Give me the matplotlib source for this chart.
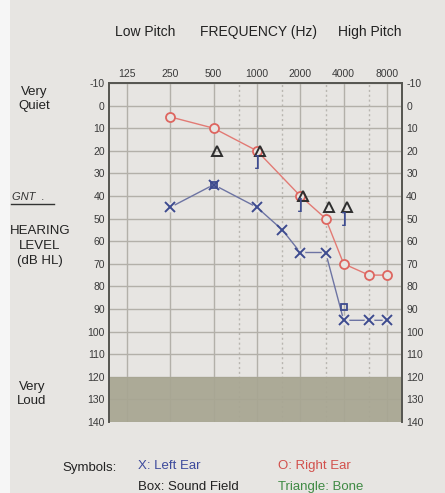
import matplotlib
matplotlib.use("Agg")
import matplotlib.pyplot as plt
import matplotlib.transforms as mtransforms
from matplotlib.patches import Rectangle

plt.rcParams['font.family'] = ['Liberation Sans', 'DejaVu Sans']

# Audiogram frequencies and thresholds (dB HL)
freq_ticks = [125, 250, 500, 1000, 2000, 4000, 8000]
freq_mid = [750, 1500, 3000, 6000]
level_ticks = list(range(-10, 141, 10))

right_freq = [250, 500, 1000, 2000, 3000, 4000, 6000, 8000]
right_db = [5, 10, 20, 40, 50, 70, 75, 75]

left_freq = [250, 500, 1000, 1500, 2000, 3000, 4000, 6000, 8000]
left_db = [45, 35, 45, 55, 65, 65, 95, 95, 95]

bone_freq = [500, 1000, 2000, 3000, 4000]
bone_db = [20, 20, 40, 45, 45]

masked_freq = [1000, 2000, 4000]
masked_db = [25, 44, 50]

field_freq = [500, 4000]
field_db = [35, 89]

BG = '#e7e5e2'
RED = '#de6660'
BLUE = '#3d4b8f'
BLUE_LINE = '#6d74a3'
GRID = '#b3b0a9'

fig = plt.figure(figsize=(4.45, 4.93), dpi=100, facecolor=BG)
# paper edge on the left
fig.patches.append(Rectangle((0, 0), 10 / 445, 1, transform=fig.transFigure,
                             facecolor='#f6f6f6', edgecolor='none', zorder=0))

ax = fig.add_axes([109 / 445, 1 - 422 / 493, 293 / 445, 339 / 493])
ax.set_facecolor(BG)
ax.set_xscale('log', base=2)
ax.set_xlim(93.8, 10170)
ax.set_ylim(140, -10)

ax.set_xticks(freq_ticks)
ax.set_xticklabels([str(f) for f in freq_ticks])
ax.set_xticks(freq_mid, minor=True)
ax.set_xticklabels([], minor=True)
ax.set_yticks(level_ticks)
ax.set_yticklabels([str(v) for v in level_ticks])

ax.tick_params(axis='x', which='both', top=True, bottom=False, labeltop=True,
               labelbottom=False, length=0, pad=3, labelsize=7.5, colors='#3a3a3a')
ax.tick_params(axis='y', left=True, right=True, labelleft=True, labelright=True,
               length=0, pad=3, labelsize=7.5, colors='#3a3a3a')

ax.grid(True, which='major', color=GRID, linewidth=1.0, zorder=0)
ax.grid(True, which='minor', axis='x', color='#b9b6b0', linewidth=1.0,
        linestyle=(0, (1.5, 2)), zorder=0)
ax.set_axisbelow(True)

# very loud band
ax.axhspan(120, 140, color='#a8a692', alpha=0.93, zorder=1, linewidth=0)

for side in ['top', 'right', 'left']:
    ax.spines[side].set_color('#555550')
    ax.spines[side].set_linewidth(1.4)
ax.spines['bottom'].set_visible(False)

# left ear: X markers joined by a thin line, with small gaps at the marks
ax.plot(left_freq, left_db, color=BLUE_LINE, linewidth=1.0, zorder=3)
ax.plot(left_freq, left_db, linestyle='none', marker='o', markersize=7,
        markerfacecolor=BG, markeredgecolor='none', zorder=4)
ax.plot(left_freq, left_db, linestyle='none', marker='x', markersize=6.5,
        markeredgewidth=1.4, color=BLUE, zorder=5)

# right ear: O markers
ax.plot(right_freq, right_db, color='#e27a74', linewidth=1.0, zorder=3)
ax.plot(right_freq, right_db, linestyle='none', marker='o', markersize=6.5,
        markerfacecolor=BG, markeredgecolor=RED, markeredgewidth=1.3, zorder=5)

# bone conduction triangles, nudged right of the frequency line
shift = mtransforms.ScaledTranslation(3 / 100, 0, fig.dpi_scale_trans)
ax.plot(bone_freq, bone_db, linestyle='none', marker='^', markersize=7,
        markerfacecolor='none', markeredgecolor='#2e2e2e', markeredgewidth=1.4,
        zorder=6, transform=ax.transData + shift)

# masked bone brackets
for f, d in zip(masked_freq, masked_db):
    ax.text(f, d, ']', color=BLUE, fontsize=10, fontweight='bold',
            ha='center', va='center', zorder=6)

# sound field boxes
ax.plot(field_freq, field_db, linestyle='none', marker='s', markersize=5,
        markerfacecolor='none', markeredgecolor=BLUE, markeredgewidth=1.3, zorder=6)

# header
fig.text(145 / 445, 1 - 32 / 493, 'Low Pitch', fontsize=10, color='#222222',
         ha='center', va='center')
fig.text(259 / 445, 1 - 32 / 493, 'FREQUENCY (Hz)', fontsize=10, color='#222222',
         ha='center', va='center')
fig.text(370 / 445, 1 - 32 / 493, 'High Pitch', fontsize=10, color='#222222',
         ha='center', va='center')

# side captions
fig.text(34 / 445, 1 - 99 / 493, 'Very\nQuiet', fontsize=9.5, color='#222222',
         ha='center', va='center', linespacing=1.25)
fig.text(40 / 445, 1 - 246 / 493, 'HEARING\nLEVEL\n(dB HL)', fontsize=9.5,
         color='#222222', ha='center', va='center', linespacing=1.35)
fig.text(32 / 445, 1 - 394 / 493, 'Very\nLoud', fontsize=9.5, color='#222222',
         ha='center', va='center', linespacing=1.3)
fig.text(12 / 445, 1 - 197 / 493, 'GNT  .', fontsize=8, color='#333333',
         ha='left', va='center', style='italic')
fig.add_artist(plt.Line2D([11 / 445, 54 / 445], [1 - 204 / 493, 1 - 204 / 493],
                          color='#333333', linewidth=1.0))

# symbol key
fig.text(90 / 445, 1 - 468 / 493, 'Symbols:', fontsize=9.5, color='#222222',
         ha='center', va='center')
fig.text(138 / 445, 1 - 466 / 493, 'X: Left Ear', fontsize=9.5, color='#3d4a9c',
         ha='left', va='center')
fig.text(278 / 445, 1 - 466 / 493, 'O: Right Ear', fontsize=9.5, color='#d2504c',
         ha='left', va='center')
fig.text(138 / 445, 1 - 487 / 493, 'Box: Sound Field', fontsize=9.5, color='#222222',
         ha='left', va='center')
fig.text(278 / 445, 1 - 487 / 493, 'Triangle: Bone', fontsize=9.5, color='#3f8a44',
         ha='left', va='center')

fig.savefig('out.png', dpi=100, facecolor=BG)
